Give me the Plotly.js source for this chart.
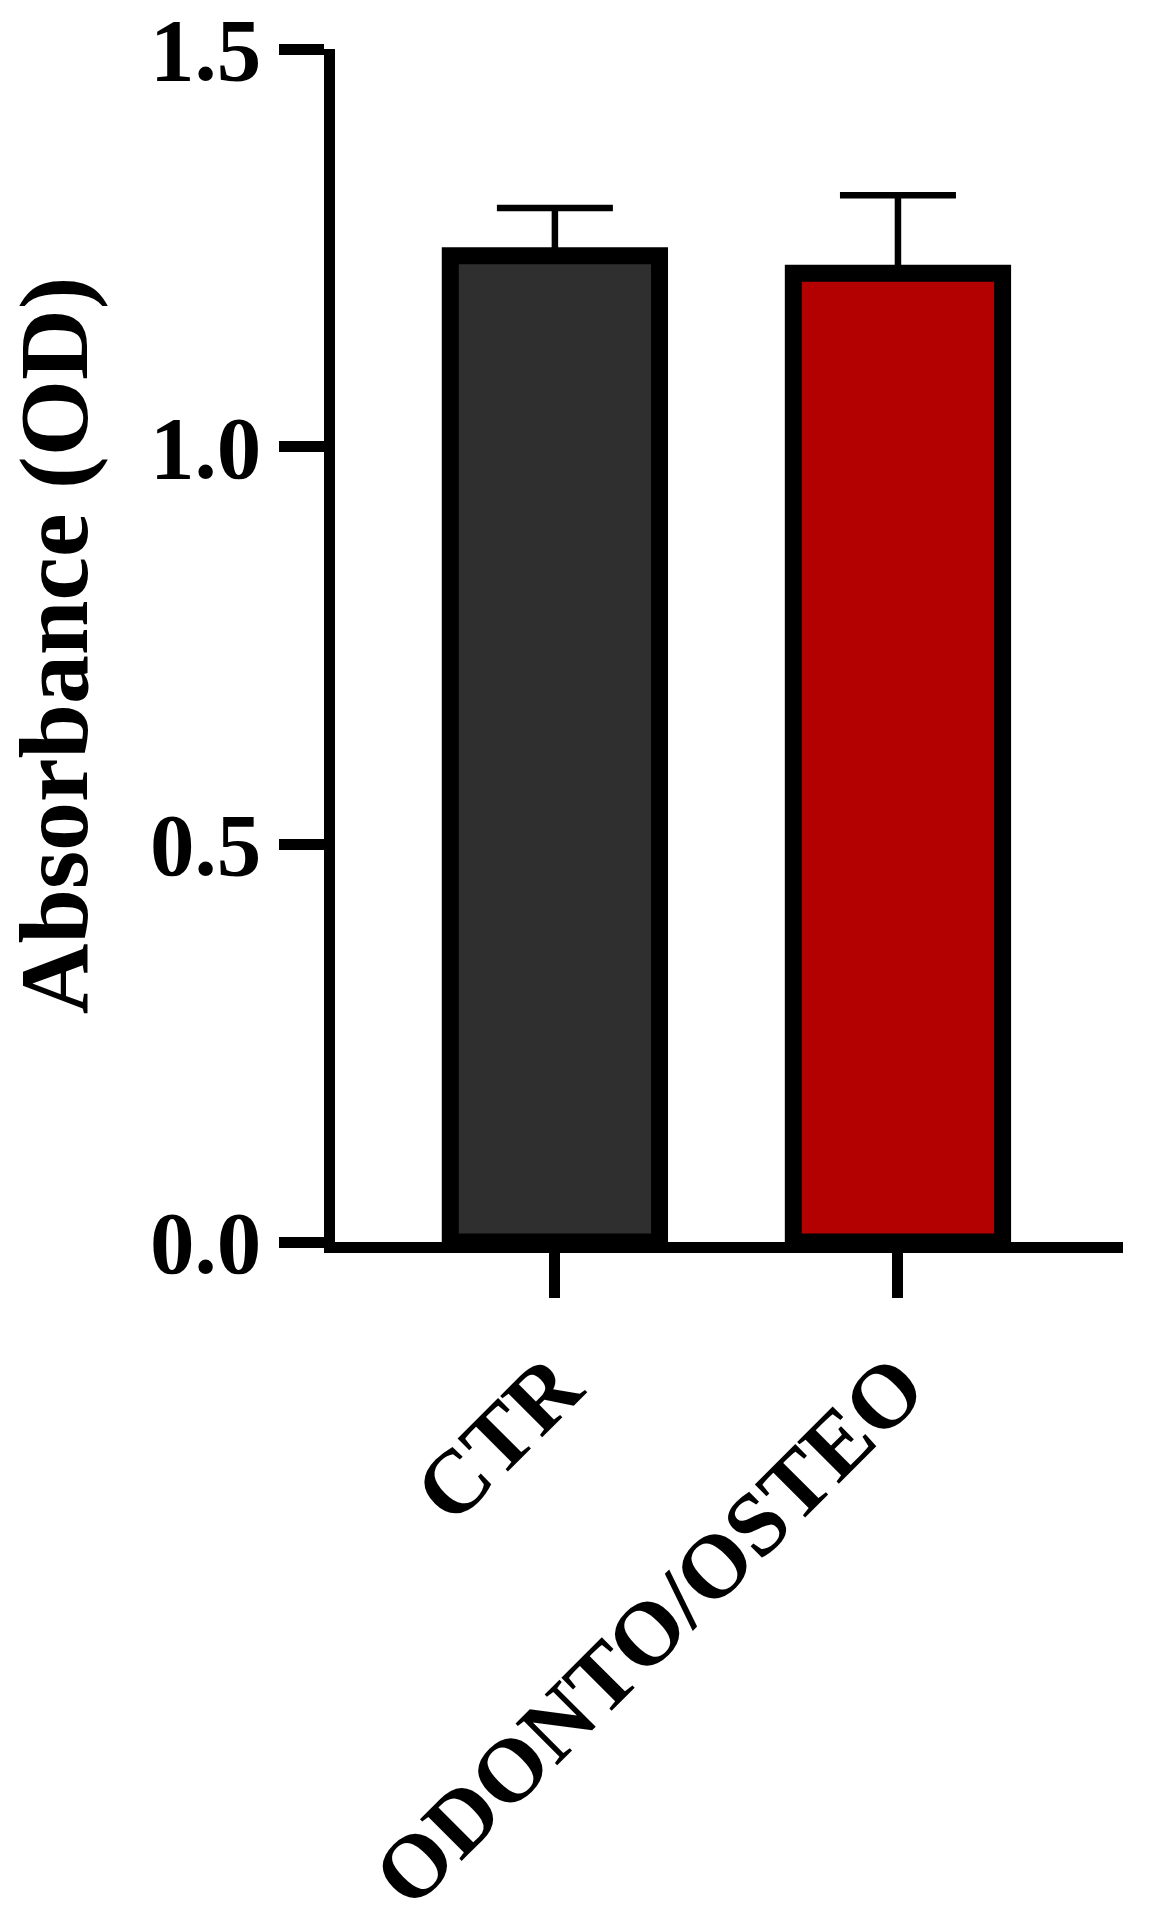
<!DOCTYPE html>
<html>
<head>
<meta charset="utf-8">
<script src="https://cdn.plot.ly/plotly-3.0.1.min.js"></script>
<style>html,body{margin:0;padding:0;background:#fff;}</style>
</head>
<body>
<div id="chart" style="width:1151px;height:1914px;"></div>
<script>
const categories = ["CTR", "ODONTO/OSTEO"];
const means = [1.240, 1.218];
const errUp = [0.060, 0.098];
const barColors = ["#2f2f2f", "#b30000"];
const yTickVals = [0, 0.5, 1.0, 1.5];
const yTickText = ["0.0", "0.5", "1.0", "1.5"];

const fontFam = "Liberation Serif, Times New Roman, serif";

const trace = {
  type: "bar",
  x: categories,
  y: means,
  width: 0.61,
  marker: { color: barColors, line: { color: "#000", width: 17 } },
  error_y: { type: "data", symmetric: false, array: errUp, arrayminus: [0, 0],
             color: "#000", thickness: 6.5, width: 58 },
  hoverinfo: "none"
};

const layout = {
  width: 1151, height: 1914,
  margin: { l: 335, r: 28, t: 49, b: 672 },
  paper_bgcolor: "#fff", plot_bgcolor: "#fff",
  showlegend: false,
  xaxis: {
    type: "category",
    range: [-0.641, 1.656],
    showline: true, linecolor: "#000", linewidth: 11,
    ticks: "outside", ticklen: 45, tickwidth: 11, tickcolor: "#000",
    tickangle: -45,
    tickfont: { family: fontFam, size: 90, color: "#000", weight: "bold" },
    showgrid: false, zeroline: false, fixedrange: true
  },
  yaxis: {
    range: [0, 1.5],
    tickvals: yTickVals, ticktext: yTickText,
    showline: true, linecolor: "#000", linewidth: 11,
    ticks: "outside", ticklen: 45, tickwidth: 11, tickcolor: "#000",
    tickfont: { family: fontFam, size: 89, color: "#000", weight: "bold" },
    showgrid: false, zeroline: false, fixedrange: true,
    title: { text: "Absorbance (OD)", standoff: 38,
             font: { family: fontFam, size: 98, color: "#000", weight: "bold" } }
  }
};

Plotly.newPlot("chart", [trace], layout, { staticPlot: true, displayModeBar: false });
</script>
</body>
</html>
